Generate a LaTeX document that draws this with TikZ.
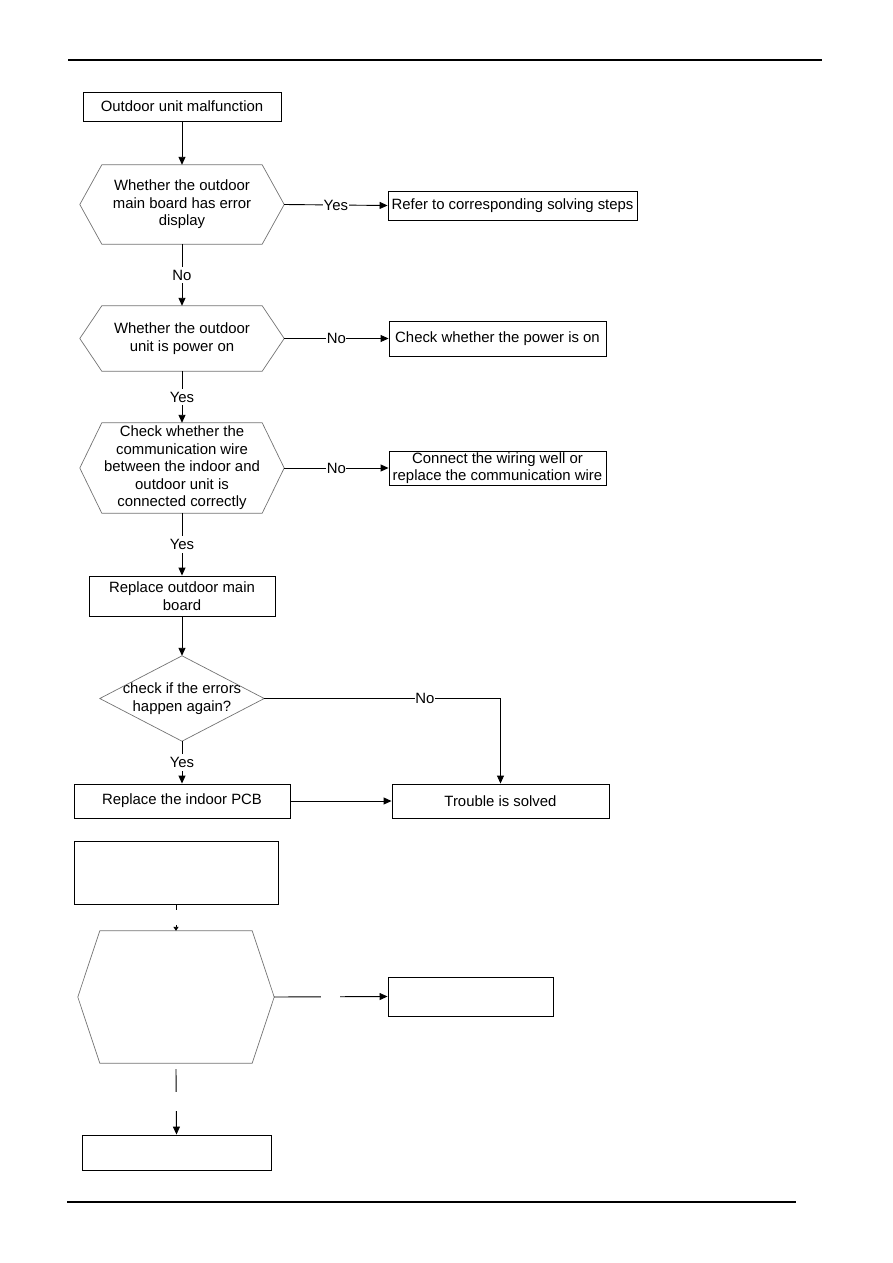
\documentclass[tikz,border=0pt]{standalone}
\usepackage{fontspec}
\setmainfont{Liberation Sans}
\usetikzlibrary{arrows.meta,calc}
\begin{document}
\begin{tikzpicture}[x=1pt,y=-1pt,
  font=\fontsize{14.9}{17.5}\selectfont,
  box/.style={draw, line width=0.9pt, inner sep=0pt, align=center},
  hexnode/.style={inner sep=0pt, align=center},
  arr/.style={-{Triangle[length=8pt,width=7pt]}, line width=0.9pt},
  ln/.style={line width=0.9pt},
  lbl/.style={fill=white, inner sep=2pt},
  gap/.style={fill=white, inner sep=0pt},
  hexline/.style={draw=black!55, line width=0.7pt}]
\useasboundingbox (0,0) rectangle (893,1263);
% page rules
\draw[line width=1.1pt] (68,60) -- (822,60);
\draw[line width=1.1pt] (67,1202) -- (796,1202);

% nodes
\node[box, minimum width=198pt, minimum height=29pt] (start) at (182,106.5) {Outdoor unit malfunction};
\node[hexnode, minimum width=204pt, minimum height=79pt] (h1) at (182,204.5) {Whether the outdoor\\main board has error\\display};
\node[box, minimum width=249pt, minimum height=29pt] (refer) at (512.5,205.5) {Refer to corresponding solving steps};
\node[hexnode, minimum width=204pt, minimum height=65pt] (h2) at (182,338.5) {Whether the outdoor\\unit is power on};
\node[box, minimum width=217pt, minimum height=35pt] (power) at (497.5,338.5) {Check whether the power is on};
\node[hexnode, minimum width=204pt, minimum height=90pt] (h3) at (182,468) {Check whether the\\communication wire\\between the indoor and\\outdoor unit is\\connected correctly};
\node[box, minimum width=217pt, minimum height=34pt] (wire) at (497.5,468) {Connect the wiring well or\\replace the communication wire};
\node[box, minimum width=186pt, minimum height=40pt] (outmain) at (182,596) {Replace outdoor main\\board};
\node[hexnode, minimum width=164pt, minimum height=85pt] (d) at (182,698.5) {check if the errors\\happen again?};
\node[box, minimum width=216pt, minimum height=34pt] (pcb) at (182,801) {Replace the indoor PCB};
\node[box, minimum width=217pt, minimum height=34pt] (solved) at (500.5,801) {Trouble is solved};
\node[box, minimum width=204pt, minimum height=63pt] (e1) at (176,872.5) {};
\node[hexnode, minimum width=196pt, minimum height=132pt] (h4) at (176,997) {};
\node[box, minimum width=165pt, minimum height=39pt] (e2) at (470.5,996.5) {};
\node[box, minimum width=189pt, minimum height=35pt] (e3) at (176.5,1152.5) {};

% hexagon and diamond outlines
\foreach \h in {h1,h2,h3,h4}{
  \draw[hexline] (\h.west) -- ([xshift=22pt]\h.north west) -- ([xshift=-22pt]\h.north east)
    -- (\h.east) -- ([xshift=-22pt]\h.south east) -- ([xshift=22pt]\h.south west) -- cycle;
}
\draw[hexline] (d.north) -- (d.east) -- (d.south) -- (d.west) -- cycle;

% connectors
\draw[arr] (start) -- (h1);
\draw[arr] (h1.east) -- node[lbl, inner sep=0.5pt] {Yes} (refer.west);
\draw[arr] (h1.south) -- node[lbl, inner sep=3pt] {No} (h2.north);
\draw[arr] (h2.east) -- node[lbl, inner sep=0.5pt] {No} (power.west);
\draw[arr] (h2.south) -- node[lbl, inner sep=3pt] {Yes} (h3.north);
\draw[arr] (h3.east) -- node[lbl, inner sep=0.5pt] {No} (wire.west);
\draw[arr] (h3.south) -- node[lbl, inner sep=3pt] {Yes} (outmain.north);
\draw[arr] (outmain) -- (d.north);
\draw[arr] (d.east) -| node[lbl, inner sep=0.5pt, pos=0.34] {No} (solved.north);
\draw[arr] (d.south) -- node[lbl, inner sep=3pt] {Yes} (pcb.north);
\draw[arr] (pcb) -- (solved);
\draw[-{Triangle[length=4pt,width=5pt]}, line width=0.9pt] (e1.south) -- node[gap, minimum height=15pt, minimum width=5pt] {} (h4.north);
\draw[arr] (h4.east) -- node[gap, minimum width=19pt, minimum height=5pt] {} (e2.west);
\draw[arr] ([yshift=-6pt]h4.south) -- node[gap, minimum height=19pt, minimum width=5pt, pos=0.5] {} (e3.north);
\end{tikzpicture}
\end{document}
